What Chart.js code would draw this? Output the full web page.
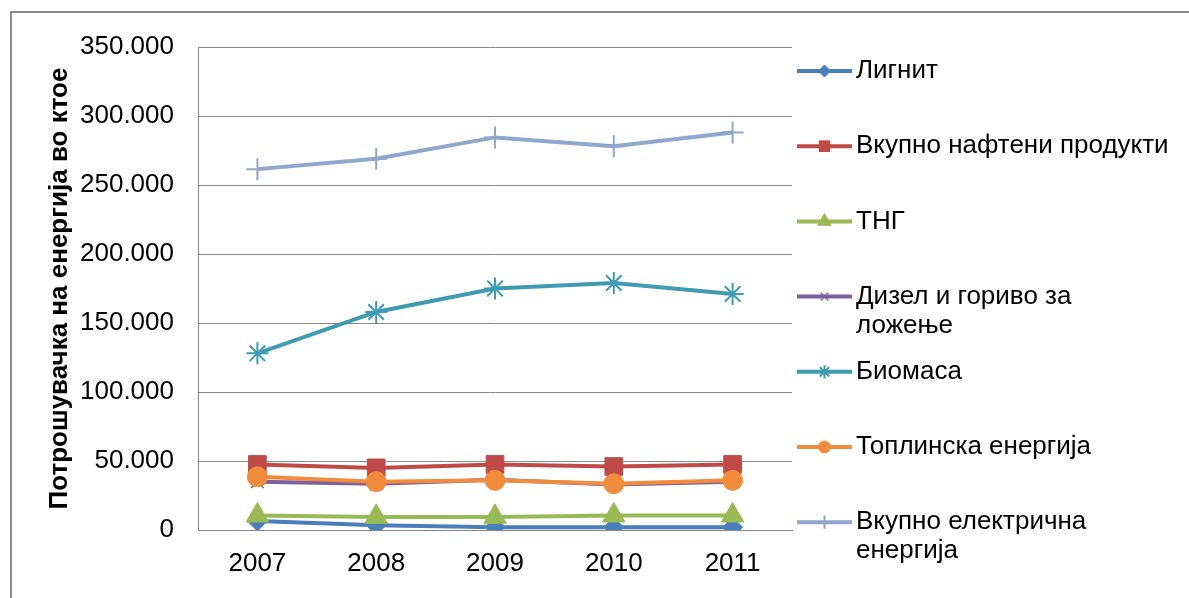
<!DOCTYPE html>
<html><head><meta charset="utf-8">
<script src="https://cdn.jsdelivr.net/npm/chart.js@4.4.1/dist/chart.umd.min.js"></script>
<style>html,body{margin:0;padding:0;background:#fff}#wrap{position:relative;width:1189px;height:598px}</style>
</head><body><div id="wrap"><canvas id="c" width="1189" height="598"></canvas></div>
<script>
const years = ['2007', '2008', '2009', '2010', '2011'];
const seriesNames = ['Лигнит', 'Вкупно нафтени продукти', 'ТНГ', 'Дизел и гориво за\nложење', 'Биомаса', 'Топлинска енергија', 'Вкупно електрична\nенергија'];
const lignite = [6500, 3500, 2000, 2000, 2000];
const oilProducts = [47500, 45000, 47500, 46000, 47500];
const lpg = [10500, 9500, 9500, 10500, 10500];
const dieselHeatingOil = [35000, 33500, 36500, 33000, 35000];
const biomass = [128000, 158000, 175000, 179000, 171000];
const heat = [38500, 35000, 36000, 33500, 36000];
const electricity = [261500, 269000, 284500, 278000, 288000];
const yTickValues = [0, 50000, 100000, 150000, 200000, 250000, 300000, 350000];
const yTitle = 'Потрошувачка на енергија во ктое';

const seriesValues = [lignite, oilProducts, lpg, dieselHeatingOil, biomass, heat, electricity];
const colors = ['#4A7EBB', '#BE4B48', '#98B954', '#7D60A0', '#3E9BB2', '#F08C3C', '#8FA6CD'];
const styles = [
  {ps: 'rectRot', r: 10, bw: 1},
  {ps: 'rect', r: 12.5, bw: 1},
  {ps: 'triangle', r: 13, bw: 1},
  {ps: 'crossRot', r: 9, bw: 1.5},
  {ps: 'star', r: 11, bw: 2},
  {ps: 'circle', r: 10, bw: 1},
  {ps: 'cross', r: 11, bw: 2}
];
const FONT = 'Liberation Sans, Arial, sans-serif';

function fmt(v) {
  return String(v).replace(/\B(?=(\d{3})+(?!\d))/g, '.');
}

const datasets = seriesValues.map((vals, i) => ({
  label: seriesNames[i],
  data: vals,
  borderColor: colors[i],
  backgroundColor: colors[i],
  borderWidth: 4,
  pointStyle: styles[i].ps,
  pointRadius: styles[i].r,
  pointHoverRadius: styles[i].r,
  pointBorderWidth: styles[i].bw,
  pointBorderColor: colors[i],
  pointBackgroundColor: colors[i],
  tension: 0,
  fill: false,
  order: seriesValues.length - i
}));

const framePlugin = {
  id: 'frame',
  beforeDraw(chart) {
    const ctx = chart.ctx;
    ctx.save();
    ctx.strokeStyle = '#8C8C8C';
    ctx.lineWidth = 2;
    ctx.strokeRect(11, 12, 1400, 800);
    ctx.restore();
  }
};

const legendPlugin = {
  id: 'sideLegend',
  afterDraw(chart) {
    const ctx = chart.ctx;
    const x0 = 797, x1 = 852, tx = 856;
    const yStart = 71, step = 75.2, lh = 29;
    ctx.save();
    chart.data.datasets.forEach((ds, i) => {
      const y = yStart + step * i;
      ctx.strokeStyle = ds.borderColor;
      ctx.lineWidth = ds.borderWidth;
      ctx.beginPath();
      ctx.moveTo(x0, y);
      ctx.lineTo(x1, y);
      ctx.stroke();
      ctx.fillStyle = ds.pointBackgroundColor;
      ctx.strokeStyle = ds.pointBorderColor;
      ctx.lineWidth = ds.pointBorderWidth;
      Chart.helpers.drawPoint(ctx, {pointStyle: ds.pointStyle, radius: ds.pointRadius * 0.6, borderWidth: ds.pointBorderWidth, rotation: 0}, (x0 + x1) / 2, y);
      ctx.fillStyle = '#000';
      ctx.font = '26px ' + FONT;
      ctx.textBaseline = 'middle';
      ctx.textAlign = 'left';
      ds.label.split('\n').forEach((line, k) => {
        ctx.fillText(line, tx, y + k * lh);
      });
    });
    ctx.restore();
  }
};

new Chart(document.getElementById('c'), {
  type: 'line',
  data: {labels: years, datasets},
  plugins: [framePlugin, legendPlugin],
  options: {
    responsive: false,
    animation: false,
    devicePixelRatio: 1,
    layout: {padding: {left: 40, top: 47, right: 397, bottom: 0}},
    plugins: {legend: {display: false}, tooltip: {enabled: false}},
    scales: {
      x: {
        offset: true,
        grid: {display: false, drawTicks: false},
        border: {display: true, color: '#868686', width: 1},
        ticks: {color: '#000', font: {family: FONT, size: 26}, padding: 18},
        afterFit(s) { s.height = 68; }
      },
      y: {
        min: 0, max: 350000,
        afterBuildTicks(s) { s.ticks = yTickValues.map(v => ({value: v})); },
        grid: {color: '#8A8A8A', lineWidth: 1, drawTicks: false},
        border: {display: true, color: '#868686', width: 1},
        ticks: {color: '#000', font: {family: FONT, size: 26}, padding: 24, callback: v => fmt(v)},
        title: {display: true, text: yTitle, color: '#000', font: {family: FONT, size: 26, weight: 'bold'}, padding: {top: 4, bottom: 0}},
        afterFit(s) { s.width = 158; }
      }
    }
  }
});
</script>
</body></html>
